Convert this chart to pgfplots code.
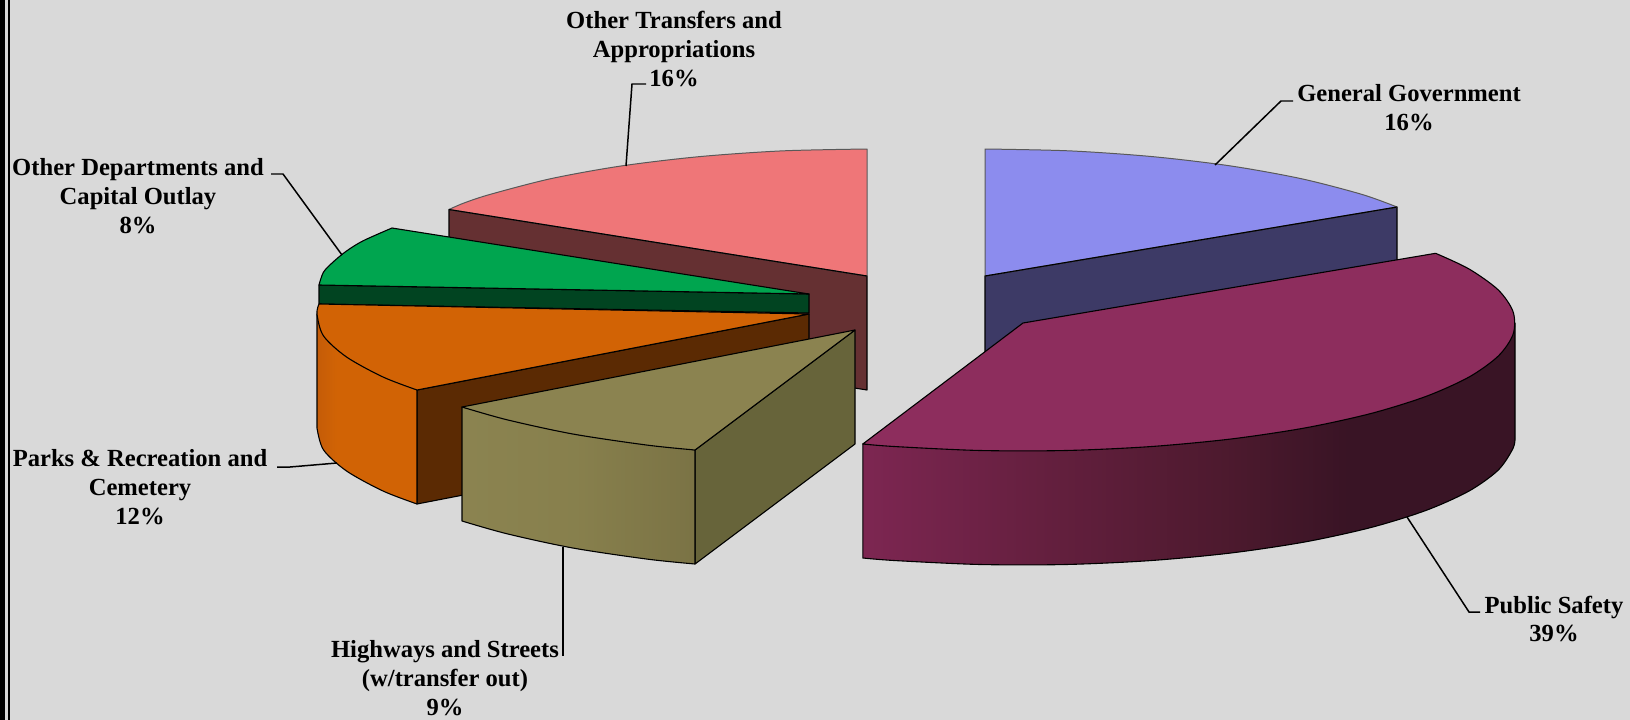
\documentclass[border=0pt]{standalone}
\usepackage{fontspec}
\setmainfont{Liberation Serif}
\usepackage{pgfplots}
\pgfplotsset{compat=1.18}

\definecolor{bg}{RGB}{217,217,217}
\definecolor{blueTop}{RGB}{140,140,238}
\definecolor{blueSide}{RGB}{61,58,102}
\definecolor{redTop}{RGB}{239,118,120}
\definecolor{redSide}{RGB}{101,48,50}
\definecolor{greenTop}{RGB}{0,165,79}
\definecolor{greenSide}{RGB}{1,68,33}
\definecolor{orangeTop}{RGB}{210,99,5}
\definecolor{orangeIn}{RGB}{91,42,3}
\definecolor{oliveTop}{RGB}{139,131,80}
\definecolor{oliveIn}{RGB}{103,100,58}
\definecolor{maroonTop}{RGB}{141,45,93}

% rim shadings: the path's bounding box spans 25bp to 75bp
\pgfdeclarehorizontalshading{maroonRim}{100bp}{
  rgb(0bp)=(0.49,0.15,0.32);
  rgb(25bp)=(0.49,0.15,0.32);
  rgb(38bp)=(0.40,0.125,0.25);
  rgb(53bp)=(0.30,0.10,0.18);
  rgb(62bp)=(0.225,0.078,0.145);
  rgb(100bp)=(0.225,0.078,0.145)}
\pgfdeclarehorizontalshading{orangeRim}{100bp}{
  rgb(0bp)=(0.77,0.36,0.03);
  rgb(25bp)=(0.77,0.36,0.03);
  rgb(35bp)=(0.82,0.39,0.02);
  rgb(100bp)=(0.82,0.39,0.02)}
\pgfdeclarehorizontalshading{oliveRim}{100bp}{
  rgb(0bp)=(0.545,0.515,0.315);
  rgb(25bp)=(0.545,0.515,0.315);
  rgb(50bp)=(0.53,0.50,0.30);
  rgb(75bp)=(0.48,0.45,0.27);
  rgb(100bp)=(0.48,0.45,0.27)}

\tikzset{
  outline/.style={draw=black, line width=1.1pt, line join=round},
  faint/.style={draw=black!65, line width=1pt, line join=round},
  leader/.style={draw=black, line width=1.5pt, no markers},
  lab/.style={font=\fontsize{24.7}{29}\selectfont\bfseries, align=center, text=black, inner sep=0pt}
}

\begin{document}
\begin{tikzpicture}
\begin{axis}[
  scale only axis, width=1630bp, height=720bp,
  xmin=0, xmax=1630, ymin=0, ymax=720, y dir=reverse,
  ticks=none, axis line style={draw=none}, clip=false,
  axis background/.style={fill=bg},
  no markers,
]
% frame strip on the left edge
\addplot[fill=black, draw=none] coordinates {(0,0)(5,0)(5,720)(0,720)} --cycle;
\addplot[fill=black, draw=none] coordinates {(8,0)(10,0)(10,720)(8,720)} --cycle;

% General Government
\addplot[outline, fill=blueSide] coordinates {(985,276)(1397,207)(1397,321)(985,390)} --cycle;
\addplot[faint, fill=blueTop, smooth] coordinates {(985,149)(1070.4,150.9)(1153.3,156.7)(1231,166)(1301.3,178.7)(1361.9,194.4)(1397,207)} -- (axis cs:985,276) -- cycle;
\addplot[outline] coordinates {(985,276)(1397,207)};

% Other Transfers and Appropriations
\addplot[outline, fill=redSide] coordinates {(449,209.5)(867,276)(867,390)(449,323.5)} --cycle;
\addplot[faint, fill=redTop, smooth] coordinates {(867,149)(781.6,150.9)(698.7,156.7)(621,166)(550.7,178.7)(490.1,194.4)(464,203)(449,209.5)} -- (axis cs:867,276) -- cycle;
\addplot[outline] coordinates {(449,209.5)(867,276)};

% Other Departments and Capital Outlay
\addplot[outline, fill=greenSide] coordinates {(319,285)(809,294)(809,313)(319,304)} --cycle;
\addplot[outline, fill=greenTop, smooth] coordinates {(392,228)(363.1,240.8)(346.7,250.9)(333.8,261.4)(323.5,272.1)(319,285)} -- (axis cs:809,294) -- cycle;

% Parks & Recreation and Cemetery
\addplot[outline, fill=orangeIn] coordinates {(417,390)(809,314)(809,428)(417,504)} --cycle;
\addplot[outline, /tikz/shading=orangeRim, /tikz/shading angle=0, smooth] coordinates {(317,428)(323.5,449.9)(346.7,471.1)(383,491)(417,504)} -- (axis cs:417,390) -- (axis cs:317,314) -- cycle;
\addplot[outline, fill=orangeTop, smooth] coordinates {(319,304)(317,314)(323.5,335.9)(346.7,357.1)(383,377)(417,390)} -- (axis cs:809,314) -- cycle;

% Highways and Streets
\addplot[outline, fill=oliveIn] coordinates {(695,450)(855,330)(855,444)(695,564)} --cycle;
\addplot[outline, /tikz/shading=oliveRim, /tikz/shading angle=0, smooth] coordinates {(462,521)(507.1,533.8)(572.8,548)(647.1,559.1)(695,564)} -- (axis cs:695,450) -- (axis cs:462,407) -- cycle;
\addplot[outline, fill=oliveTop, smooth] coordinates {(462,407)(507.1,419.8)(572.8,434)(647.1,445.1)(695,450)} -- (axis cs:855,330) -- cycle;

% Public Safety
\addplot[outline, /tikz/shading=maroonRim, /tikz/shading angle=0, smooth] coordinates {(1515,437)(1513.1,448.2)(1498.2,470.1)(1468.9,491.1)(1426,510.4)(1370.9,527.5)(1305.2,541.9)(1230.9,553)(1150.3,560.6)(1065.9,564.5)(980.1,564.5)(895.7,560.6)(862.8,558)} -- (axis cs:862.8,444) -- (axis cs:1515,323) -- cycle;
\addplot[outline, fill=maroonTop, smooth] coordinates {(1435.6,253.3)(1468.9,268.9)(1498.2,289.9)(1513.1,311.8)(1513.1,334.2)(1498.2,356.1)(1468.9,377.1)(1426,396.4)(1370.9,413.5)(1305.2,427.9)(1230.9,439)(1150.3,446.6)(1065.9,450.5)(980.1,450.5)(895.7,446.6)(862.8,444)} -- (axis cs:1023,323) -- cycle;

% leader lines
\addplot[leader] coordinates {(1215,165)(1281,101)(1293,101)};
\addplot[leader] coordinates {(1407,517)(1469,612)(1480,612)};
\addplot[leader] coordinates {(563,547)(563,656)};
\addplot[leader] coordinates {(337,463)(290,467)(277,467)};
\addplot[leader] coordinates {(342,255)(283,174)(271,174)};
\addplot[leader] coordinates {(626,166)(632,84)(646,84)};

% labels
\node[lab] at (axis cs:1409,108) {General Government\\16\%};
\node[lab] at (axis cs:1554,619) {Public Safety\\39\%};
\node[lab] at (axis cs:445,678) {Highways and Streets\\(w/transfer out)\\9\%};
\node[lab] at (axis cs:140,487) {Parks \& Recreation and\\Cemetery\\12\%};
\node[lab] at (axis cs:138,196) {Other Departments and\\Capital Outlay\\8\%};
\node[lab] at (axis cs:674,49) {Other Transfers and\\Appropriations\\16\%};
\end{axis}
\end{tikzpicture}
\end{document}
